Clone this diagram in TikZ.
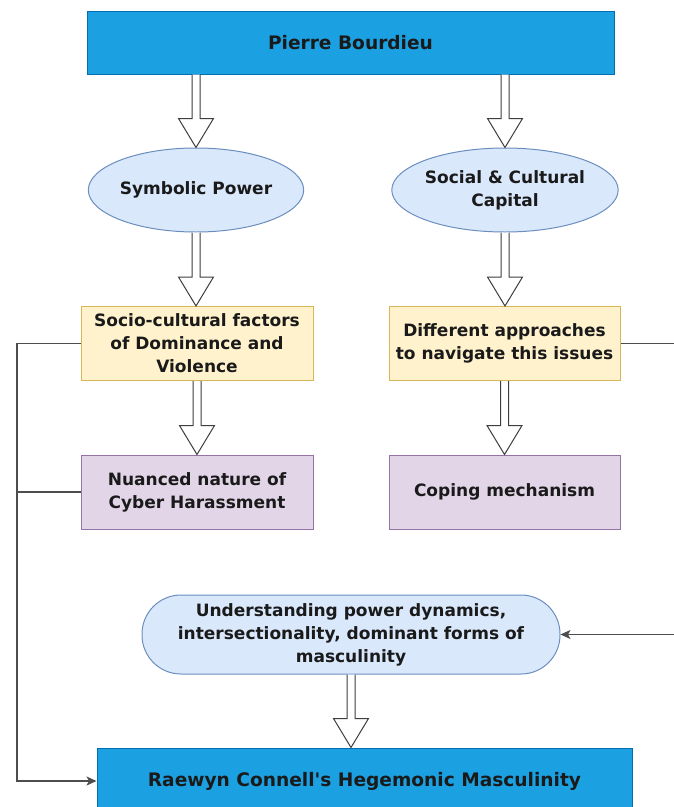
\documentclass[tikz,border=0pt]{standalone}
\usepackage{fontspec}
\setmainfont{DejaVu Sans}[Ligatures=TeXOff]
\usetikzlibrary{shapes.geometric,arrows.meta,calc}
\definecolor{titlefill}{HTML}{1BA1E2}
\definecolor{titledraw}{HTML}{006EAF}
\definecolor{bluefill}{HTML}{DAE8FC}
\definecolor{bluedraw}{HTML}{6C8EBF}
\definecolor{yelfill}{HTML}{FFF2CC}
\definecolor{yeldraw}{HTML}{D6B656}
\definecolor{purfill}{HTML}{E1D5E7}
\definecolor{purdraw}{HTML}{9673A6}
\definecolor{linecol}{HTML}{4D4D4D}
\definecolor{txtcol}{HTML}{1A1A1A}
\begin{document}
\begin{tikzpicture}[x=1pt,y=-1pt,
  base/.style={inner sep=0pt, align=center, text=txtcol, font=\fontsize{17}{23}\selectfont\bfseries, line width=1pt},
  titlebox/.style={base, rectangle, fill=titlefill, draw=titledraw, font=\fontsize{18.6}{24}\selectfont\bfseries},
  ovalnode/.style={base, ellipse, fill=bluefill, draw=bluedraw, minimum width=198pt, minimum height=84pt},
  yelbox/.style={base, rectangle, fill=yelfill, draw=yeldraw, minimum width=232pt, minimum height=74pt},
  purbox/.style={base, rectangle, fill=purfill, draw=purdraw, minimum width=232pt, minimum height=74pt},
  pillbox/.style={base, rectangle, rounded corners=39pt, fill=bluefill, draw=bluedraw, minimum width=418pt, minimum height=79pt},
  conn/.style={draw=linecol, line width=1.3pt},
  connarrow/.style={conn, -{Stealth[length=10pt,width=9pt,inset=2.5pt]}},
  blockarrow/.style={draw=linecol!80!black, fill=white, line width=1pt, line join=miter,
    to path={let \p1=(\tikztostart), \p2=(\tikztotarget) in
      (\x1-4pt,\y1) -- (\x1-4pt,\y2+29pt) -- (\x1-17.5pt,\y2+29pt) -- (\x1,\y2)
      -- (\x1+17.5pt,\y2+29pt) -- (\x1+4pt,\y2+29pt) -- (\x1+4pt,\y1)}}
]
\useasboundingbox (0,0) rectangle (673,807);
\fill[white] (0,0) rectangle (673,807);

\node[titlebox, minimum width=527pt, minimum height=63pt] (psb) at (350.5,42.5) {Pierre Bourdieu};
\node[ovalnode] (sym) at (196,190) {Symbolic Power};
\node[ovalnode] (scc) at (505,190) {Social \& Cultural\\Capital};
\node[yelbox] (scf) at (197,343.5) {Socio-cultural factors\\of Dominance and\\Violence};
\node[yelbox, minimum width=231pt] (dap) at (504.5,343.5) {Different approaches\\to navigate this issues};
\node[purbox] (nnc) at (197,492) {Nuanced nature of\\Cyber Harassment};
\node[purbox, minimum width=231pt] (cop) at (504.5,492) {Coping mechanism};
\node[pillbox] (upd) at (351,634.5) {Understanding power dynamics,\\intersectionality, dominant forms of\\masculinity};
\node[titlebox, minimum width=535pt, minimum height=66pt] (rhm) at (364.5,781) {Raewyn Connell's Hegemonic Masculinity};

\coordinate (lx) at (17,0);
\coordinate (rx) at (700,0);

\draw[blockarrow] (psb.south -| sym.north) to (sym.north);
\draw[blockarrow] (psb.south -| scc.north) to (scc.north);
\draw[blockarrow] (sym.south) to (scf.north -| sym.south);
\draw[blockarrow] (scc.south) to (dap.north -| scc.south);
\draw[blockarrow] (scf.south) to (nnc.north);
\draw[blockarrow] (dap.south) to (cop.north);
\draw[blockarrow] (upd.south) to (rhm.north -| upd.south);

\draw[connarrow] (scf.west) -- (scf.west -| lx) |- (rhm.west);
\draw[conn] (nnc.west) -- (nnc.west -| lx);
\draw[connarrow] (dap.east) -- (dap.east -| rx) |- (upd.east);
\end{tikzpicture}
\end{document}
